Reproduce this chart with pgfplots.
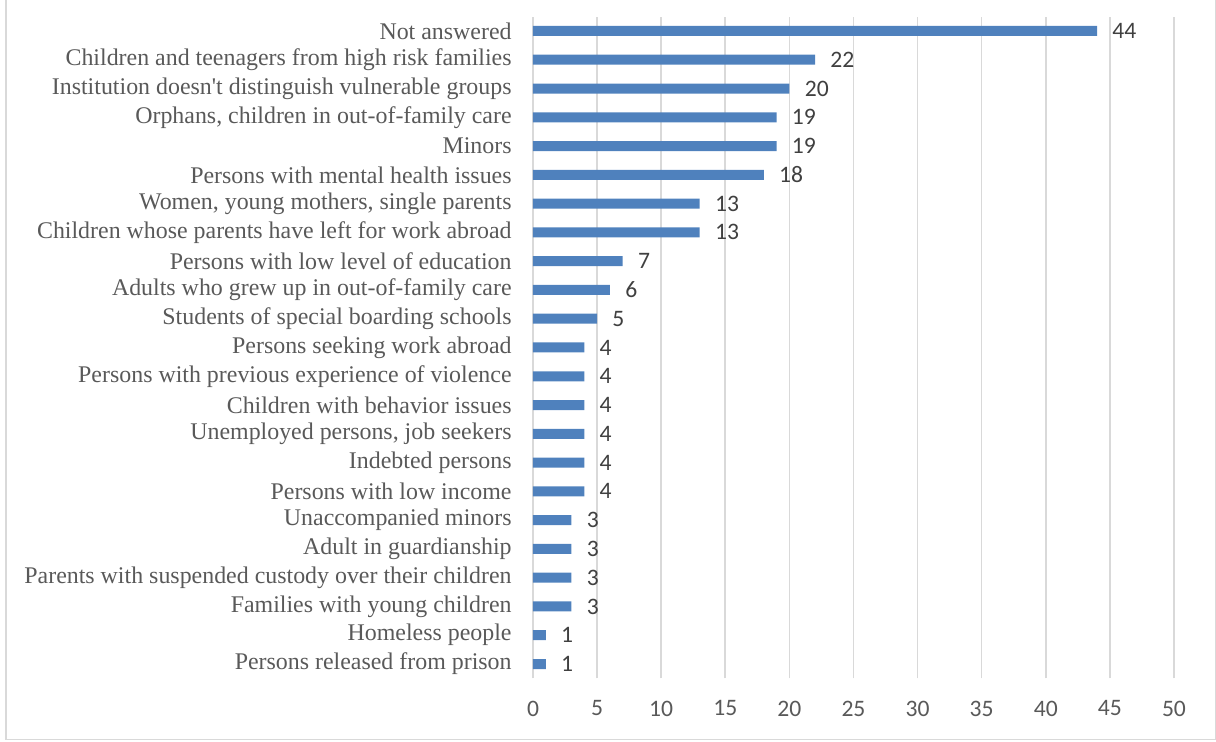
\documentclass[border=0pt]{standalone}
\usepackage{fontspec}
\setmainfont{Liberation Serif}
\newfontfamily\numfont{Carlito}
\usepackage{pgfplots}
\pgfplotsset{compat=1.18}
\definecolor{barblue}{HTML}{4F81BD}
\definecolor{gridgray}{HTML}{D9D9D9}
\definecolor{txtgray}{HTML}{595959}
\definecolor{numgray}{HTML}{404040}
\begin{document}
\begin{tikzpicture}
\begin{axis}[
  at={(0,0)}, anchor=south west,
  scale only axis, width=320.5pt, height=330.9pt,
  xbar, bar width=5pt,
  xmin=0, xmax=50, ymin=-0.5, ymax=22.5,
  xtick={0,5,...,50},
  ytick={0,...,22},
  yticklabels={
    Persons released from prison,
    Homeless people,
    Families with young children,
    Parents with suspended custody over their children,
    Adult in guardianship,
    Unaccompanied minors,
    Persons with low income,
    Indebted persons,
    {Unemployed persons, job seekers},
    Children with behavior issues,
    Persons with previous experience of violence,
    Persons seeking work abroad,
    Students of special boarding schools,
    Adults who grew up in out-of-family care,
    Persons with low level of education,
    Children whose parents have left for work abroad,
    {Women, young mothers, single parents},
    Persons with mental health issues,
    Minors,
    {Orphans, children in out-of-family care},
    Institution doesn\textquotesingle t distinguish vulnerable groups,
    Children and teenagers from high risk families,
    Not answered},
  axis line style={draw=none},
  xmajorgrids, ymajorgrids=false,
  major grid style={gridgray, line width=0.8pt},
  major tick length=0pt,
  tick style={draw=none},
  /pgf/number format/assume math mode=true,
  y tick label style={font=\fontsize{11.95}{13}\selectfont, text=txtgray, anchor=east, inner sep=0pt, xshift=-10.5pt},
  x tick label style={font=\numfont\fontsize{11.8}{13}\selectfont, text=txtgray, anchor=north, inner sep=0pt, yshift=-11pt},
  nodes near coords,
  point meta=x,
  nodes near coords style={font=\numfont\fontsize{11.8}{13}\selectfont, text=numgray, anchor=west, inner sep=0pt, xshift=7.5pt},
  clip=false,
]
\addplot[fill=barblue, draw=none] coordinates {
  (1,0) (1,1) (3,2) (3,3) (3,4) (3,5) (4,6) (4,7) (4,8) (4,9) (4,10) (4,11)
  (5,12) (6,13) (7,14) (13,15) (13,16) (18,17) (19,18) (19,19) (20,20) (22,21) (44,22)
};
\end{axis}
\draw[gridgray, line width=0.8pt] (-263.5pt,341pt) -- (-263.5pt,-30.55pt) -- (341.2pt,-30.55pt) -- (341.2pt,341pt);
\pgfresetboundingbox
\useasboundingbox (-266.5pt,-31.8pt) rectangle (341.5pt,339.2pt);
\end{tikzpicture}
\end{document}
